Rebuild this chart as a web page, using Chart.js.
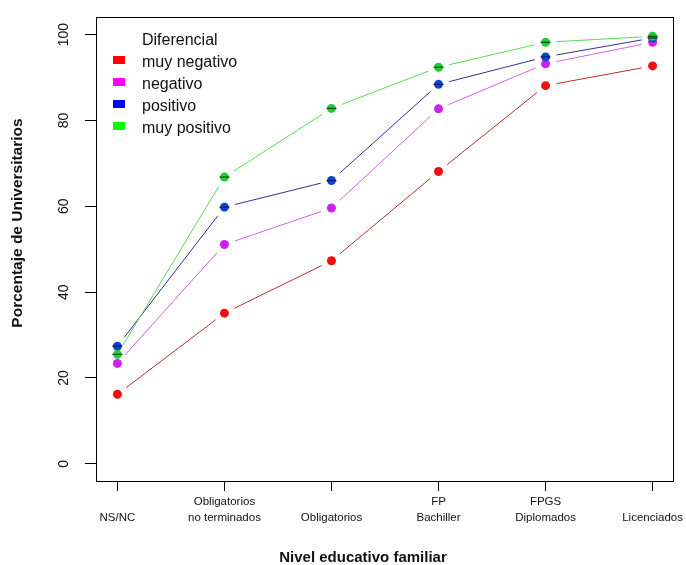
<!DOCTYPE html>
<html><head><meta charset="utf-8">
<script src="https://cdn.jsdelivr.net/npm/chart.js@4"></script>
<style>html,body{margin:0;padding:0;background:#fff}#wrap{width:686px;height:565px}</style>
</head><body><div id="wrap"><canvas id="c" width="686" height="565"></canvas></div>
<script>
// ---- data ----
const categories = ['NS/NC', 'Obligatorios\nno terminados', 'Obligatorios', 'FP\nBachiller', 'FPGS\nDiplomados', 'Licenciados'];
const seriesNames = ['muy negativo', 'negativo', 'positivo', 'muy positivo'];
const muyNegativo = [16.2, 35.1, 47.3, 68.1, 88.1, 92.7];
const negativo    = [23.4, 51.1, 59.6, 82.7, 93.2, 98.2];
const positivo    = [27.4, 59.8, 66.0, 88.4, 94.8, 99.2];
const muyPositivo = [25.5, 66.8, 82.8, 92.4, 98.2, 99.6];
const yTicks = [0, 20, 40, 60, 80, 100];
const legendTitle = 'Diferencial';
const xTitle = 'Nivel educativo familiar';
const yTitle = 'Porcentaje de Universitarios';

// ---- styles ----
const FONT = "'Liberation Sans', Arial, sans-serif";
const styles = [
  {line: '#b83030', point: '#ee1111', legend: '#ff0000', mark: null},
  {line: '#cc66dd', point: '#cc22ee', legend: '#ff00ff', mark: null},
  {line: '#30309a', point: '#1144cc', legend: '#0000ff', mark: '#0a1a6a'},
  {line: '#55dd55', point: '#22cc33', legend: '#00ff00', mark: '#0b4a20'}
];
const GAP = 11;
const allSeries = [muyNegativo, negativo, positivo, muyPositivo];

const datasets = allSeries.map((vals, i) => ({
  label: seriesNames[i],
  data: vals.map((v, k) => ({x: k, y: v})),
  borderColor: styles[i].line,
  borderWidth: 1,
  backgroundColor: styles[i].point,
  pointBackgroundColor: styles[i].point,
  pointBorderWidth: 0,
  pointRadius: 4.5,
  pointHoverRadius: 4.5,
  tension: 0,
  fill: false,
  order: 3 - i,
  markColor: styles[i].mark,
  legendColor: styles[i].legend,
  segment: {
    borderDash: ctx => {
      const L = Math.hypot(ctx.p1.x - ctx.p0.x, ctx.p1.y - ctx.p0.y);
      const g = Math.min(GAP, L / 2);
      return [0, g, Math.max(L - 2 * g, 0), g + 2000];
    }
  }
}));

const decor = {
  id: 'decor',
  afterDatasetsDraw(chart) {
    const c = chart.ctx;
    chart.data.datasets.forEach((ds, i) => {
      if (!ds.markColor) return;
      const meta = chart.getDatasetMeta(i);
      c.save();
      c.strokeStyle = ds.markColor;
      c.lineWidth = 1.2;
      meta.data.forEach(p => {
        c.beginPath();
        c.moveTo(p.x - 5, p.y);
        c.lineTo(p.x + 5, p.y);
        c.stroke();
      });
      c.restore();
    });
  },
  afterDraw(chart) {
    const c = chart.ctx;
    const a = chart.chartArea;
    c.save();
    c.strokeStyle = '#000';
    c.lineWidth = 1;
    c.strokeRect(Math.round(a.left) + 0.5, Math.round(a.top) + 0.5, Math.round(a.right - a.left) - 1, Math.round(a.bottom - a.top));
    // legend
    c.fillStyle = '#111';
    c.font = '16px ' + FONT;
    c.textAlign = 'left';
    c.textBaseline = 'alphabetic';
    c.fillText(legendTitle, 142, 45);
    chart.data.datasets.forEach((ds, i) => {
      const base = 67 + i * 22;
      c.fillStyle = ds.legendColor;
      c.fillRect(113, base - 11, 12, 8);
      c.fillStyle = '#111';
      c.fillText(ds.label, 142, base);
    });
    // axis titles
    c.font = 'bold 15px ' + FONT;
    c.textAlign = 'center';
    c.textBaseline = 'middle';
    c.fillText(xTitle, 363, 558);
    c.save();
    c.translate(18, 223);
    c.rotate(-Math.PI / 2);
    c.font = 'bold 15.5px ' + FONT;
    c.fillText(yTitle, 0, 0);
    c.restore();
    c.restore();
  }
};

new Chart(document.getElementById('c'), {
  type: 'line',
  data: {datasets},
  plugins: [decor],
  options: {
    responsive: false,
    animation: false,
    devicePixelRatio: 1,
    layout: {padding: {top: 15, right: 12, left: 0, bottom: 0}},
    plugins: {legend: {display: false}, tooltip: {enabled: false}, title: {display: false}},
    events: [],
    scales: {
      x: {
        type: 'linear',
        min: -0.2, max: 5.2,
        afterBuildTicks: s => { s.ticks = categories.map((_, k) => ({value: k})); },
        afterFit: s => { s.height = 84; },
        border: {display: false},
        grid: {display: true, drawOnChartArea: false, drawTicks: true, tickLength: 10, color: '#000', tickColor: '#000'},
        ticks: {
          autoSkip: false, maxRotation: 0, minRotation: 0, padding: 2,
          color: '#111',
          font: {family: FONT, size: 11.5, lineHeight: 1.45},
          callback: v => {
            const parts = categories[v].split('\n');
            return parts.length === 1 ? ['', parts[0]] : parts;
          }
        }
      },
      y: {
        type: 'linear',
        min: -4, max: 104,
        afterBuildTicks: s => { s.ticks = yTicks.map(v => ({value: v})); },
        afterFit: s => { s.width = 96; },
        border: {display: false},
        grid: {display: true, drawOnChartArea: false, drawTicks: true, tickLength: 11, color: '#000', tickColor: '#000'},
        ticks: {
          minRotation: 90, maxRotation: 90, crossAlign: 'center', padding: 9,
          color: '#111',
          font: {family: FONT, size: 14},
          callback: v => String(v)
        }
      }
    }
  }
});
</script>
</body></html>
